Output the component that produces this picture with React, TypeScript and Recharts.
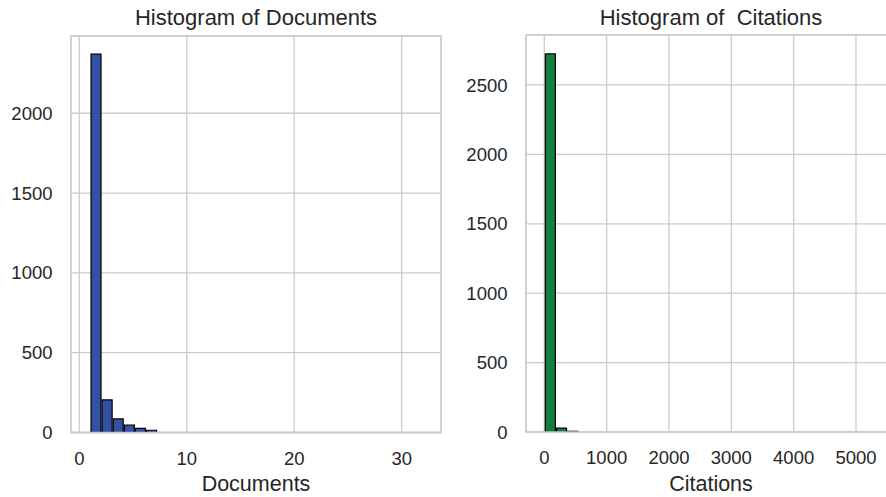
import { Bar, BarChart, CartesianGrid, ReferenceArea, XAxis, YAxis } from "recharts"

// histogram counts per bin (30 bins each);
// bins too small to see in the picture are left at 0
const docCounts = [
  2370, 204, 85, 47, 26, 14, 0, 0, 0, 0, 0, 0, 0, 0, 0, 0, 0, 0, 0, 0, 0, 0, 0, 0, 0, 0, 0, 0, 0, 0,
]
const citeCounts = [
  2724, 28, 5, 0, 0, 0, 0, 0, 0, 0, 0, 0, 0, 0, 0, 0, 0, 0, 0, 0, 0, 0, 0, 0, 0, 0, 0, 0, 0, 0,
]

// bin range [first edge, last edge]
const docBinRange = [1, 32]
const citeBinRange = [0, 5370]

// axis ranges and ticks
const docXDomain = [-0.77, 33.66]
const docXTicks = [0, 10, 20, 30]
const docYDomain = [0, 2484]
const docYTicks = [0, 500, 1000, 1500, 2000]

const citeXDomain = [-294, 5642]
const citeXTicks = [0, 1000, 2000, 3000, 4000, 5000]
const citeYDomain = [0, 2860]
const citeYTicks = [0, 500, 1000, 1500, 2000, 2500]

const FONT = "'Liberation Sans', Arial, sans-serif"
const TEXT = "#262626"
const GRID = "#cccccc"

function toBins(counts: number[], range: number[]) {
  const width = (range[1] - range[0]) / counts.length
  return counts.map((count, i) => ({ x: range[0] + (i + 0.5) * width, count }))
}

interface HistPanelProps {
  title: string
  xLabel: string
  counts: number[]
  binRange: number[]
  xDomain: number[]
  xTicks: number[]
  yDomain: number[]
  yTicks: number[]
  color: string
  left: number
  width: number
  margin: { top: number; right: number; left: number; bottom: number }
  yAxisWidth: number
  xAxisHeight: number
}

function HistPanel(props: HistPanelProps) {
  const { counts, binRange, xDomain, yDomain, margin, width, yAxisWidth } = props
  const height = 497
  const data = toBins(counts, binRange)
  const plotW = width - margin.left - margin.right - yAxisWidth
  const binW = (binRange[1] - binRange[0]) / counts.length
  const barSize = (plotW * binW) / (xDomain[1] - xDomain[0])
  const plotCenter = margin.left + yAxisWidth + plotW / 2

  return (
    <div style={{ position: "absolute", left: props.left, top: 0, width, height }}>
      <div
        style={{
          position: "absolute",
          top: 7,
          left: plotCenter - 200,
          width: 400,
          textAlign: "center",
          fontFamily: FONT,
          fontSize: 22,
          lineHeight: "22px",
          color: TEXT,
          whiteSpace: "pre",
        }}
      >
        {props.title}
      </div>
      <BarChart width={width} height={height} data={data} margin={margin} barCategoryGap={0} barGap={0}>
        <CartesianGrid stroke={GRID} strokeWidth={1.3} />
        <Bar
          dataKey="count"
          fill={props.color}
          stroke="#000000"
          strokeWidth={1.2}
          barSize={barSize}
          isAnimationActive={false}
        />
        <ReferenceArea
          x1={xDomain[0]}
          x2={xDomain[1]}
          y1={yDomain[0]}
          y2={yDomain[1]}
          fill="none"
          stroke={GRID}
          strokeWidth={1.4}
          ifOverflow="visible"
        />
        <XAxis
          type="number"
          dataKey="x"
          domain={xDomain}
          allowDataOverflow
          ticks={props.xTicks}
          interval={0}
          height={props.xAxisHeight}
          axisLine={{ stroke: GRID, strokeWidth: 1.4 }}
          tickLine={false}
          tickSize={0}
          tickMargin={19}
          tick={{ fontSize: 18.5, fill: TEXT, fontFamily: FONT }}
          label={{
            value: props.xLabel,
            position: "insideBottom",
            offset: 6.5,
            style: { fontSize: 21.5, fill: TEXT, fontFamily: FONT },
          }}
        />
        <YAxis
          type="number"
          domain={yDomain}
          allowDataOverflow
          ticks={props.yTicks}
          interval={0}
          width={yAxisWidth}
          axisLine={false}
          tickLine={false}
          tickSize={0}
          tickMargin={18.5}
          tick={{ fontSize: 18.5, fill: TEXT, fontFamily: FONT }}
        />
      </BarChart>
    </div>
  )
}

export default function App() {
  return (
    <div
      style={{
        position: "absolute",
        left: 0,
        top: 0,
        width: 886,
        height: 497,
        overflow: "hidden",
        background: "#ffffff",
      }}
    >
      <HistPanel
        title="Histogram of Documents"
        xLabel="Documents"
        counts={docCounts}
        binRange={docBinRange}
        xDomain={docXDomain}
        xTicks={docXTicks}
        yDomain={docYDomain}
        yTicks={docYTicks}
        color="#3352a6"
        left={0}
        width={450}
        margin={{ top: 36, right: 9, left: 0, bottom: 0 }}
        yAxisWidth={71}
        xAxisHeight={64.5}
      />
      <HistPanel
        title="Histogram of  Citations"
        xLabel="Citations"
        counts={citeCounts}
        binRange={citeBinRange}
        xDomain={citeXDomain}
        xTicks={citeXTicks}
        yDomain={citeYDomain}
        yTicks={citeYTicks}
        color="#138040"
        left={450}
        width={460}
        margin={{ top: 35, right: 14, left: 0, bottom: 0 }}
        yAxisWidth={76}
        xAxisHeight={65}
      />
    </div>
  )
}
